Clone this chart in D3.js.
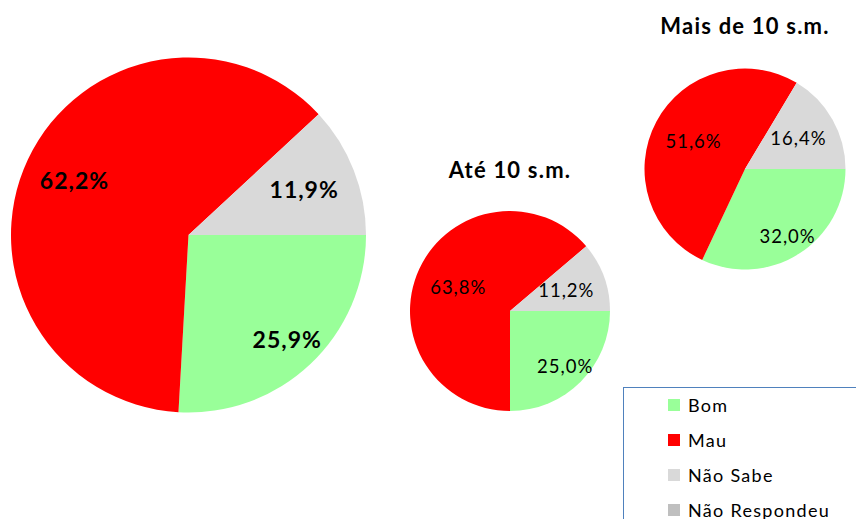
<!DOCTYPE html>
<html><head><meta charset="utf-8">
<script src="https://cdn.jsdelivr.net/npm/d3@7"></script>
<style>body{margin:0;background:#fff}svg{display:block;font-family:Lato,"Open Sans",sans-serif}</style>
</head><body><svg id="c" width="856" height="519"></svg>
<script>
const categories = ["Bom", "Mau", "Não Sabe", "Não Respondeu"];
const colors = ["#99ff99", "#ff0000", "#d9d9d9", "#bfbfbf"];
const pieTitles = ["", "Até 10 s.m.", "Mais de 10 s.m."];
const totalValues = [25.9, 62.2, 11.9, 0];
const ate10Values = [25.0, 63.8, 11.2, 0];
const mais10Values = [32.0, 51.6, 16.4, 0];

const svg = d3.select("#c");
const fmt = v => d3.format(".1f")(v).replace(".", ",") + "%";
const pie = d3.pie().sort(null).startAngle(Math.PI / 2).endAngle(Math.PI / 2 + 2 * Math.PI);

const pies = [
  {values: totalValues, cx: 188.5, cy: 235, r: 177.5, bold: true, fs: 23, k: [0.81, 0.71, 0.7], title: pieTitles[0]},
  {values: ate10Values, cx: 510, cy: 311, r: 100, bold: false, fs: 18.5, k: [0.78, 0.57, 0.6], title: pieTitles[1], ty: 178},
  {values: mais10Values, cx: 745, cy: 169, r: 100.5, bold: false, fs: 18.5, k: [0.79, 0.58, 0.61], title: pieTitles[2], ty: 34}
];

pies.forEach(p => {
  const g = svg.append("g").attr("transform", `translate(${p.cx},${p.cy})`);
  const arcs = pie(p.values);
  const arc = d3.arc().innerRadius(0).outerRadius(p.r);
  g.selectAll("path").data(arcs).join("path")
    .attr("d", arc).attr("fill", (d, i) => colors[i]);
  g.selectAll("text").data(arcs.filter(d => d.value > 0)).join("text")
    .attr("transform", (d) => {
      const i = d.index;
      const a = (d.startAngle + d.endAngle) / 2;
      const rr = p.r * p.k[i];
      return `translate(${rr * Math.sin(a)},${-rr * Math.cos(a)})`;
    })
    .attr("text-anchor", "middle").attr("dy", "0.35em")
    .attr("font-size", p.fs).attr("font-weight", p.bold ? "bold" : "normal")
    .attr("letter-spacing", 1)
    .attr("fill", "#000")
    .text(d => fmt(d.value));
  if (p.title) {
    svg.append("text").attr("x", p.cx).attr("y", p.ty)
      .attr("text-anchor", "middle").attr("font-size", 22).attr("font-weight", "bold")
      .attr("letter-spacing", 1.2)
      .text(p.title);
  }
});

// legend
const lg = svg.append("g");
lg.append("rect").attr("x", 623.5).attr("y", 387.5).attr("width", 260).attr("height", 160)
  .attr("fill", "#fff").attr("stroke", "#4f81bd").attr("stroke-width", 1);
categories.forEach((c, i) => {
  const y = 412 + i * 35;
  lg.append("rect").attr("x", 668).attr("y", y - 13).attr("width", 12).attr("height", 12).attr("fill", colors[i]);
  lg.append("text").attr("x", 688).attr("y", y).attr("font-size", 18).attr("letter-spacing", 1.3)
    .attr("fill", "#000").text(c);
});
</script></body></html>
